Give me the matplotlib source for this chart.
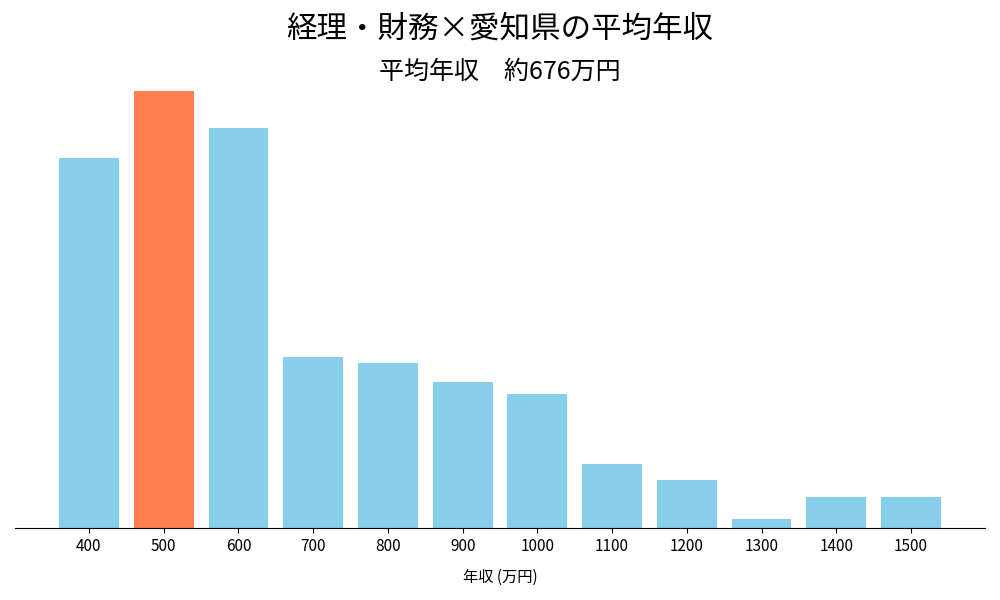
import matplotlib
matplotlib.use("Agg")
import matplotlib.pyplot as plt

plt.rcParams['font.family'] = ['Noto Sans CJK JP', 'DejaVu Sans']

categories = ['400','500','600','700','800','900','1000','1100','1200','1300','1400','1500']
values = [370, 437, 400, 171, 165, 146, 134, 64, 48, 9, 31, 31]
highlight = '500'

colors = ['#FF7F50' if c == highlight else '#87CEEB' for c in categories]

fig = plt.figure(figsize=(10, 6), dpi=100)
ax = fig.add_axes([0.015, 0.12, 0.97, 0.76])
x = range(len(categories))
ax.bar(x, values, width=0.8, color=colors)
ax.set_xticks(list(x))
ax.set_xticklabels(categories, fontsize=11)
ax.set_xlim(-0.99, 11.99)
ax.set_ylim(0, 456)
ax.set_yticks([])
for s in ['top', 'right', 'left']:
    ax.spines[s].set_visible(False)
ax.set_xlabel('年収 (万円)', fontsize=11, labelpad=10)
fig.text(0.5, 0.952, '経理・財務×愛知県の平均年収', ha='center', va='center', fontsize=22)
fig.text(0.5, 0.88, '平均年収　約676万円', ha='center', va='center', fontsize=18)
fig.savefig('out.png')
